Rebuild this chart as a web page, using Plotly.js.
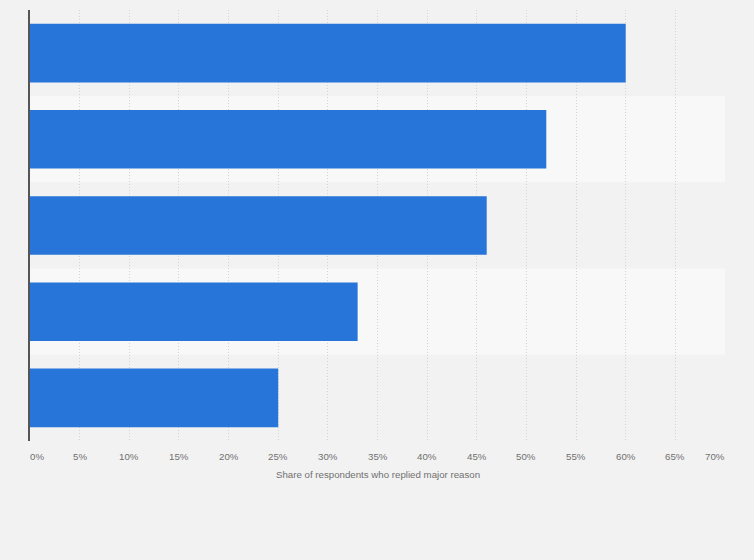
<!DOCTYPE html>
<html>
<head>
<meta charset="utf-8">
<script src="https://cdn.plot.ly/plotly-3.0.1.min.js"></script>
<style>html,body{margin:0;padding:0;background:#f2f2f2;}#chart{width:754px;height:560px;}</style>
</head>
<body>
<div id="chart"></div>
<script>
// Data (category names are not shown in the reference)
const categories = ["Reason A", "Reason B", "Reason C", "Reason D", "Reason E"];
const values = [60, 52, 46, 33, 25];
const tickValues = [0, 5, 10, 15, 20, 25, 30, 35, 40, 45, 50, 55, 60, 65, 70];
const tickLabels = ["0%", "5%", "10%", "15%", "20%", "25%", "30%", "35%", "40%", "45%", "50%", "55%", "60%", "65%", "70%"];
const axisTitle = "Share of respondents who replied major reason";

const font = "Liberation Sans, Arial, sans-serif";

const shapes = categories.map((c, i) => ({
  type: "rect", layer: "below", xref: "paper", yref: "y",
  x0: 0, x1: 1, y0: i - 0.5, y1: i + 0.5,
  fillcolor: i % 2 === 1 ? "#f8f8f8" : "#f2f2f2", line: {width: 0}
}));

const annotations = tickValues.map((v, i) => ({
  x: v, xref: "x", y: 0, yref: "paper", yanchor: "top", xanchor: "center",
  yshift: -8, xshift: i === 0 ? 7 : (i === tickValues.length - 1 ? -10 : 0),
  text: tickLabels[i], showarrow: false,
  font: {family: font, size: 9.7, color: "#707070"}
}));
annotations.push({
  x: 0.5, xref: "paper", y: 0, yref: "paper", yanchor: "top", xanchor: "center",
  yshift: -26, text: axisTitle, showarrow: false,
  font: {family: font, size: 9.7, color: "#707070"}
});

const trace = {
  type: "bar", orientation: "h",
  x: values, y: categories,
  marker: {color: "#2775d9", line: {width: 0}},
  width: 0.68, hoverinfo: "none"
};

const layout = {
  width: 754, height: 560,
  margin: {l: 30, r: 29, t: 10, b: 119, pad: 0},
  paper_bgcolor: "#f2f2f2", plot_bgcolor: "#f2f2f2",
  showlegend: false,
  shapes: shapes,
  annotations: annotations,
  xaxis: {
    range: [0, 70], tickvals: tickValues, showticklabels: false,
    showgrid: true, gridcolor: "#d4d4d4", gridwidth: 1, griddash: "1px,2px",
    zeroline: false, showline: false, ticks: "", fixedrange: true
  },
  yaxis: {
    type: "category", autorange: "reversed", range: [4.5, -0.5],
    showticklabels: false, showgrid: false, zeroline: false,
    showline: true, linecolor: "#555555", linewidth: 1.6, ticks: "", fixedrange: true
  }
};

Plotly.newPlot("chart", [trace], layout, {displayModeBar: false, staticPlot: true});
</script>
</body>
</html>
